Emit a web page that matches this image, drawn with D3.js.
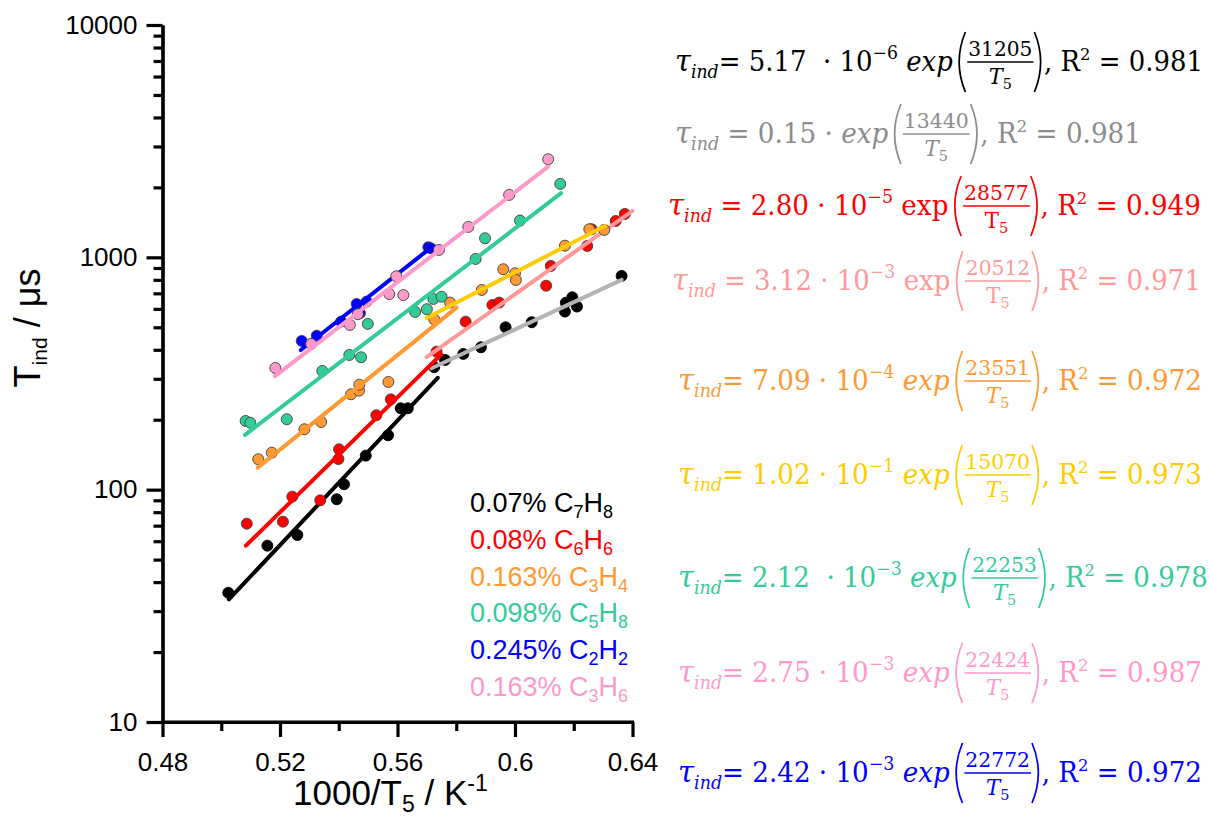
<!DOCTYPE html>
<html><head><meta charset="utf-8">
<script src="https://cdn.jsdelivr.net/npm/d3@7"></script>
<style>body{margin:0;background:#fff}svg{display:block}</style>
</head><body>
<svg id="c" width="1210" height="818"></svg>
<script>
// ---------- DATA ----------
const seriesKeys = ["C7H8", "C6H6", "C3H4", "C5H8", "C2H2", "C3H6"];
const legendParts = [
  ["0.07% C", "7", "H", "8"],
  ["0.08% C", "6", "H", "6"],
  ["0.163% C", "3", "H", "4"],
  ["0.098% C", "5", "H", "8"],
  ["0.245% C", "2", "H", "2"],
  ["0.163% C", "3", "H", "6"]
];
const seriesColors = ["#000000", "#ff0000", "#ff9933", "#33cc99", "#0000ff", "#ff99cc"];

const c7h8X = [0.5024,0.5157,0.5259,0.5393,0.5418,0.5492,0.5568,0.5611,0.5635,0.5725,0.5762,0.5824,0.5884,0.5968,0.6057,0.6170,0.6173,0.6195,0.6211,0.6363];
const c7h8Y = [36.0,57.4,63.8,90.9,105.5,140.1,171.5,224,224,336.5,361.7,383.9,410,500,525.6,584,638,673,614,832];

const c6h6X = [0.5087,0.5210,0.5242,0.5337,0.5399,0.5401,0.5528,0.5577,0.5733,0.5832,0.5923,0.5946,0.6106,0.6122,0.6246,0.6261,0.6343,0.6374];
const c6h6Y = [71.4,72.8,93.3,90,135.5,149.2,209,244.8,392.7,528.6,623.7,638.4,755,918,1119,1321,1434,1537];

const c3h4X = [0.5126,0.5172,0.5283,0.5340,0.5442,0.5469,0.5470,0.5569,0.5725,0.5779,0.5887,0.5960,0.6000,0.6003,0.6170,0.6253,0.6304];
const c3h4Y = [135.2,144.3,182,195.6,257.4,266.9,283,290.9,541,638.5,724,888.6,854,799,1122,1321,1312];

const c5h8X = [0.5083,0.5099,0.5223,0.5344,0.5436,0.5476,0.5499,0.5660,0.5700,0.5722,0.5750,0.5866,0.5898,0.6017,0.6154];
const c5h8Y = [197.6,194,201,324.3,380,371.5,517,582,598,662,677,984,1208,1439,2070];

const c2h2X = [0.5274,0.5325,0.5408,0.5461,0.5472,0.5495,0.5705,0.5714];
const c2h2Y = [436.5,460,529,630,575,645,1105,1094];

const c3h6X = [0.5184,0.5306,0.5438,0.5465,0.5572,0.5596,0.5620,0.5741,0.5841,0.5980,0.6113];
const c3h6Y = [334,424,512,569,695,829,688,1076,1352,1857,2644];

// fitted lines (end points)
const fitColors = ["#000000", "#b3b3b3", "#ff0000", "#ff9999", "#ff9933", "#ffcc00", "#33cc99", "#0000ff", "#ff99cc"];
const fitX0 = [0.5026, 0.5716, 0.5084, 0.5699, 0.5124, 0.5699, 0.5081, 0.5271, 0.5183];
const fitY0 = [33.7,   333,    57.4,   372,    124.4,  548,    172,    399,    308];
const fitX1 = [0.5737, 0.6363, 0.5749, 0.6400, 0.5801, 0.6306, 0.6157, 0.5701, 0.6113];
const fitY1 = [303,    800,    382,    1586,   607.6,  1365,   1888,   1069,   2457];

// equation texts
const eqColors = ["#000000", "#8c8c8c", "#ff0000", "#ff9999", "#ff9933", "#ffcc00", "#33cc99", "#ff99cc", "#0000ff"];
const eqEq    = ["= ", " = ", " = ", " = ", "= ", "= ", "= ", "= ", "= "];
const eqCoef  = ["5.17  · 10", "0.15 · ", "2.80 · 10", "3.12 · 10", "7.09 · 10", "1.02 · 10", "2.12  · 10", "2.75 · 10", "2.42 · 10"];
const eqPow   = ["−6", "", "−5", "−3", "−4", "−1", "−3", "−3", "−3"];
const eqNum   = ["31205", "13440", "28577", "20512", "23551", "15070", "22253", "22424", "22772"];
const eqR2    = ["0.981", "0.981", "0.949", "0.971", "0.972", "0.973", "0.978", "0.987", "0.972"];
const eqItalic = [true, true, false, false, true, true, true, true, true];

const xMajorTicks = [0.48, 0.52, 0.56, 0.60, 0.64];
const xTickLabels = ["0.48", "0.52", "0.56", "0.6", "0.64"];
const xMinorTicks = [0.50, 0.54, 0.58, 0.62];
const yMajorTicks = [10, 100, 1000, 10000];
const yTickLabels = ["10", "100", "1000", "10000"];

// ---------- DRAW ----------
const svg = d3.select("#c");
const x = d3.scaleLinear().domain([0.48, 0.64]).range([162.5, 632.5]);
const y = d3.scaleLog().domain([10, 10000]).range([722, 25]);
const SANS = "'Liberation Sans', Arial, sans-serif";

const yMinor = [];
for (let d = 10; d < 10000; d *= 10) for (let k = 2; k <= 9; k++) yMinor.push(d * k);

// y axis
const gy = svg.append("g").attr("transform", "translate(162.5,0)");
gy.call(d3.axisLeft(y).tickValues(yMajorTicks).tickFormat((d, i) => yTickLabels[i]).tickSize(16).tickSizeOuter(0).tickPadding(9));
gy.append("g").call(d3.axisLeft(y).tickValues(yMinor).tickFormat("").tickSize(9).tickSizeOuter(0));
// x axis
const gx = svg.append("g").attr("transform", "translate(0,722)");
gx.call(d3.axisBottom(x).tickValues(xMajorTicks).tickFormat((d, i) => xTickLabels[i]).tickSize(15).tickSizeOuter(0).tickPadding(16));
gx.append("g").call(d3.axisBottom(x).tickValues(xMinorTicks).tickFormat("").tickSize(9).tickSizeOuter(0));

svg.selectAll(".domain").attr("stroke", "#000").attr("stroke-width", 3.2);
svg.selectAll(".tick line").attr("stroke", "#000").attr("stroke-width", 3.2);
svg.selectAll(".tick text").style("font-family", SANS).style("font-size", "26px").attr("fill", "#000");
svg.append("line").attr("x1", 161).attr("x2", 634).attr("y1", 722).attr("y2", 722).attr("stroke", "#000").attr("stroke-width", 3.2);

// axis titles
const xt = svg.append("text").attr("x", 293).attr("y", 805).style("font-family", SANS).style("font-size", "35px").attr("fill", "#000");
xt.append("tspan").text("1000/T");
xt.append("tspan").attr("dy", 7).style("font-size", "23px").text("5");
xt.append("tspan").attr("dy", -7).text("\u00a0/\u00a0K");
xt.append("tspan").attr("dy", -14).style("font-size", "23px").text("-1");

const yt = svg.append("text").attr("transform", "translate(40,328) rotate(-90)").attr("text-anchor", "middle")
  .style("font-family", SANS).style("font-size", "36px").attr("fill", "#000");
yt.append("tspan").text("Τ");
yt.append("tspan").attr("dy", 7).style("font-size", "21px").text("ind");
yt.append("tspan").attr("dy", -7).text("\u00a0/\u00a0μs");

// series
const seriesX = [c7h8X, c6h6X, c3h4X, c5h8X, c2h2X, c3h6X];
const seriesY = [c7h8Y, c6h6Y, c3h4Y, c5h8Y, c2h2Y, c3h6Y];
const fitOf = [[0, 1], [2, 3], [4, 5], [6], [7], [8]];
const drawOrder = [0, 1, 2, 3, 4, 5];
const lineGen = d3.line().x(d => x(d[0])).y(d => y(d[1]));

drawOrder.forEach(s => {
  const pts = seriesX[s].map((v, i) => [v, seriesY[s][i]]);
  svg.append("g").selectAll("circle").data(pts).join("circle")
    .attr("cx", d => x(d[0])).attr("cy", d => y(d[1])).attr("r", 5.5)
    .attr("fill", seriesColors[s])
    .attr("stroke", s === 0 ? "#000" : "#404040").attr("stroke-width", 0.9);
  fitOf[s].forEach(f => {
    svg.append("path").datum([[fitX0[f], fitY0[f]], [fitX1[f], fitY1[f]]])
      .attr("d", lineGen).attr("fill", "none").attr("stroke", fitColors[f])
      .attr("stroke-width", 4).attr("stroke-linecap", "round");
  });
});

// legend
legendParts.forEach((p, i) => {
  const t = svg.append("text").attr("x", 470).attr("y", 512 + i * 36.8)
    .style("font-family", SANS).style("font-size", "27px").attr("fill", seriesColors[i]);
  t.append("tspan").text(p[0]);
  t.append("tspan").attr("dy", 6).style("font-size", "18px").text(p[1]);
  t.append("tspan").attr("dy", -6).text(p[2]);
  t.append("tspan").attr("dy", 6).style("font-size", "18px").text(p[3]);
});

// equations
const eqLayout = [
  [675, 1203, 62], [675, 1141, 134], [668, 1201, 206], [672, 1201, 281],
  [678, 1202, 381], [678, 1202, 475], [678, 1208, 578], [678, 1202, 673], [678, 1202, 773]
];
const SERIF = "'DejaVu Serif', 'Liberation Serif', serif";
function drawEq(i) {
  const [x0, x1, yc] = eqLayout[i];
  const col = eqColors[i];
  const g = svg.append("g").attr("fill", col).style("font-family", SERIF);
  const fs = 27, sfs = 18;
  const t = g.append("text").attr("x", 0).attr("y", 9).style("font-size", fs + "px");
  t.append("tspan").style("font-style", "italic").style("font-size", "30px").text("τ");
  t.append("tspan").attr("dy", 7).style("font-style", "italic").style("font-size", sfs + "px").text("ind");
  t.append("tspan").attr("dy", -7).text((eqEq[i] + eqCoef[i]).replace(/ /g, "\u00a0"));
  if (eqPow[i]) {
    t.append("tspan").attr("dy", -12).style("font-size", sfs + "px").text(eqPow[i]);
    t.append("tspan").attr("dy", 12).text("\u00a0");
  }
  t.append("tspan").style("font-style", eqItalic[i] ? "italic" : "normal").text("exp");
  let cx = t.node().getComputedTextLength() + 4;
  g.append("path").attr("d", `M${cx + 9},-30 Q${cx - 4},0 ${cx + 9},30`).attr("fill", "none").attr("stroke", col).attr("stroke-width", 1.8);
  cx += 12;
  const num = g.append("text").attr("x", cx).attr("y", -6).style("font-size", "21px").text(eqNum[i]);
  const nw = num.node().getComputedTextLength();
  g.append("line").attr("x1", cx - 1).attr("x2", cx + nw + 1).attr("y1", 0).attr("y2", 0).attr("stroke", col).attr("stroke-width", 1.6);
  const den = g.append("text").attr("x", cx + nw / 2).attr("y", 22).attr("text-anchor", "middle").style("font-size", "22px");
  den.append("tspan").style("font-style", eqItalic[i] ? "italic" : "normal").text("T");
  den.append("tspan").attr("dy", 5).style("font-size", "15px").text("5");
  cx += nw + 2;
  g.append("path").attr("d", `M${cx},-30 Q${cx + 13},0 ${cx},30`).attr("fill", "none").attr("stroke", col).attr("stroke-width", 1.8);
  cx += 10;
  const tail = g.append("text").attr("x", cx).attr("y", 9).style("font-size", fs + "px");
  tail.append("tspan").text(",\u00a0R");
  tail.append("tspan").attr("dy", -11).style("font-size", "17px").text("2");
  tail.append("tspan").attr("dy", 11).text("\u00a0=\u00a0" + eqR2[i]);
  const W = cx + tail.node().getComputedTextLength();
  g.attr("transform", `translate(${x0},${yc}) scale(${(x1 - x0) / W},1)`);
}
eqR2.forEach((d, i) => drawEq(i));
</script>
</body></html>
